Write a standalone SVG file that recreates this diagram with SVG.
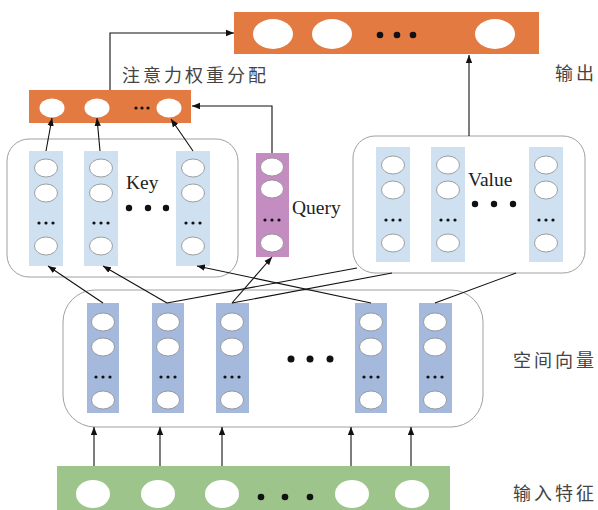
<svg xmlns="http://www.w3.org/2000/svg" width="598" height="510" viewBox="0 0 598 510">
<style>
.box{fill:#fff;stroke:#a0a0a0;stroke-width:1}
.org{fill:#E27A42}
.kc{fill:#CFE1F0}
.qc{fill:#C48DC1}
.sc{fill:#A5B9DD}
.gr{fill:#9CC48B}
.ce{fill:#fff;stroke:#8a8a8a;stroke-width:0.8}
.be{fill:#fff}
.sd{fill:#111}
.ln{fill:none;stroke:#111;stroke-width:1.1}
.ar{fill:none;stroke:#111;stroke-width:1.1;marker-end:url(#ah)}
.cn{font-family:"Noto Sans CJK SC","Noto Sans",sans-serif;font-size:18px;letter-spacing:3px;fill:#444}
.en{font-family:"Liberation Serif",serif;font-size:19.5px;fill:#222}
</style>
<defs>
<marker id="ah" viewBox="0 0 10 10" refX="10" refY="5" markerWidth="8" markerHeight="8" markerUnits="userSpaceOnUse" orient="auto">
<path d="M0,1 L10,5 L0,9 Z" fill="#111"/>
</marker>
<g id="c3">
<ellipse class="ce" cx="0" cy="0" rx="11.5" ry="9"/>
<ellipse class="ce" cx="0" cy="25" rx="11.5" ry="9"/>
<circle class="sd" cx="-7" cy="55" r="1.6"/><circle class="sd" cx="0" cy="55" r="1.6"/><circle class="sd" cx="7" cy="55" r="1.6"/>
<ellipse class="ce" cx="0" cy="78" rx="11.5" ry="9"/>
</g>
</defs>

<g id="output">
<rect class="org" x="234" y="12" width="305" height="42"/>
<ellipse class="be" cx="273" cy="34" rx="20" ry="15"/>
<ellipse class="be" cx="332" cy="34" rx="20" ry="15"/>
<circle class="sd" cx="380" cy="35" r="3.3"/><circle class="sd" cx="397" cy="35" r="3.3"/><circle class="sd" cx="413" cy="35" r="3.3"/>
<ellipse class="be" cx="495" cy="34" rx="20" ry="15"/>
<text class="cn" x="555" y="80">输出</text>
</g>

<g id="attention">
<rect class="org" x="29" y="90" width="162" height="33"/>
<ellipse class="be" cx="52" cy="108" rx="12.5" ry="9.5"/>
<ellipse class="be" cx="97" cy="108" rx="12.5" ry="9.5"/>
<circle class="sd" cx="136" cy="108" r="1.6"/><circle class="sd" cx="142" cy="108" r="1.6"/><circle class="sd" cx="148" cy="108" r="1.6"/>
<ellipse class="be" cx="169" cy="108" rx="12.5" ry="9.5"/>
<text class="cn" x="122" y="82">注意力权重分配</text>
</g>

<g id="key">
<rect class="box" x="7" y="139" width="231" height="138" rx="22"/>
<rect class="kc" x="29" y="151" width="34" height="115"/>
<rect class="kc" x="84" y="151" width="34" height="115"/>
<rect class="kc" x="176" y="151" width="34" height="115"/>
<use href="#c3" x="46" y="168"/>
<use href="#c3" x="101" y="168"/>
<use href="#c3" x="193" y="168"/>
<text class="en" x="126" y="189">Key</text>
<circle class="sd" cx="129" cy="208" r="3.2"/><circle class="sd" cx="148" cy="208" r="3.2"/><circle class="sd" cx="166" cy="208" r="3.2"/>
</g>

<g id="query">
<rect class="qc" x="256" y="153" width="33" height="104"/>
<ellipse class="ce" cx="272" cy="167" rx="11.5" ry="9"/>
<ellipse class="ce" cx="272" cy="189" rx="11.5" ry="9"/>
<circle class="sd" cx="265" cy="220" r="1.6"/><circle class="sd" cx="272" cy="220" r="1.6"/><circle class="sd" cx="279" cy="220" r="1.6"/>
<ellipse class="ce" cx="272" cy="243" rx="11.5" ry="9"/>
<text class="en" x="292" y="214">Query</text>
</g>

<g id="value">
<rect class="box" x="353" y="136" width="232" height="137" rx="22"/>
<rect class="kc" x="376" y="147" width="34" height="115"/>
<rect class="kc" x="431" y="147" width="34" height="115"/>
<rect class="kc" x="529" y="147" width="34" height="115"/>
<use href="#c3" x="393" y="165"/>
<use href="#c3" x="448" y="165"/>
<use href="#c3" x="546" y="165"/>
<text class="en" x="468" y="186">Value</text>
<circle class="sd" cx="475" cy="204" r="3.2"/><circle class="sd" cx="494" cy="204" r="3.2"/><circle class="sd" cx="513" cy="204" r="3.2"/>
</g>

<g id="spatial">
<rect class="box" x="63" y="290" width="420" height="137" rx="32"/>
<rect class="sc" x="87" y="303" width="32" height="110"/>
<rect class="sc" x="152" y="303" width="32" height="110"/>
<rect class="sc" x="216" y="303" width="33" height="110"/>
<rect class="sc" x="355" y="303" width="32" height="110"/>
<rect class="sc" x="419" y="303" width="33" height="110"/>
<g transform="translate(0,-2)">
<use href="#c3" x="103" y="324"/>
<use href="#c3" x="168" y="324"/>
<use href="#c3" x="232" y="324"/>
<use href="#c3" x="371" y="324"/>
<use href="#c3" x="435" y="324"/>
</g>
<circle class="sd" cx="291" cy="359" r="3.5"/><circle class="sd" cx="310" cy="359" r="3.5"/><circle class="sd" cx="330" cy="359" r="3.5"/>
<text class="cn" x="513" y="367">空间向量</text>
</g>

<g id="input">
<rect class="gr" x="57" y="466" width="393" height="44"/>
<ellipse class="be" cx="93" cy="494" rx="17" ry="14"/>
<ellipse class="be" cx="158" cy="494" rx="17" ry="14"/>
<ellipse class="be" cx="222" cy="494" rx="17" ry="14"/>
<circle class="sd" cx="261" cy="497" r="3.3"/><circle class="sd" cx="285" cy="497" r="3.3"/><circle class="sd" cx="310" cy="497" r="3.3"/>
<ellipse class="be" cx="352" cy="494" rx="17" ry="14"/>
<ellipse class="be" cx="412" cy="494" rx="17" ry="14"/>
<text class="cn" x="513" y="500">输入特征</text>
</g>

<g id="connectors">
<path class="ar" d="M94,466 V427"/>
<path class="ar" d="M160,466 V427"/>
<path class="ar" d="M222,466 V427"/>
<path class="ar" d="M351,466 V427"/>
<path class="ar" d="M411,466 V427"/>
<path class="ar" d="M103,303 L48,266"/>
<path class="ar" d="M167,303 L103,266"/>
<path class="ln" d="M167,303 L357,268"/>
<path class="ln" d="M232,303 L392,273"/>
<path class="ar" d="M232,303 L272,257"/>
<path class="ar" d="M371,303 L197,266"/>
<path class="ln" d="M435,303 L516,273"/>
<path class="ar" d="M46,151 L52,118"/>
<path class="ar" d="M100,151 L97,118"/>
<path class="ar" d="M193,151 L171,119"/>
<path class="ar" d="M272,153 V106 H192"/>
<path class="ar" d="M110,90 V33 H234"/>
<path class="ar" d="M469,136 V55"/>
</g>
</svg>
